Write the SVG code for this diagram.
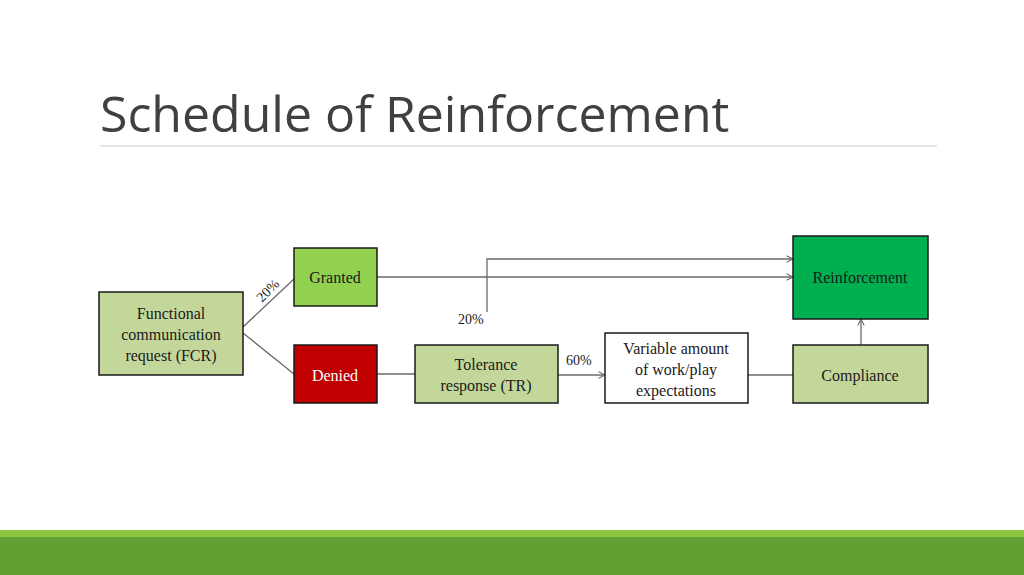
<svg xmlns="http://www.w3.org/2000/svg" width="1024" height="575" viewBox="0 0 1024 575">
<defs>
<style>
.b{stroke:#1a1a1a;stroke-width:1.5}
.t{font-family:"Liberation Serif","DejaVu Serif",serif;font-size:16px;fill:#1a1a1a;text-anchor:middle}
.c{fill:none;stroke:#6a6a6a;stroke-width:1.3}
.l{font-family:"Liberation Serif",serif;font-size:14px;fill:#1a1a1a}
</style>
<marker id="a" viewBox="0 0 10 10" refX="9" refY="5" markerWidth="8" markerHeight="8" orient="auto" markerUnits="userSpaceOnUse"><path d="M1 1L9 5L1 9" fill="none" stroke="#6a6a6a" stroke-width="1.3"/></marker>
</defs>
<rect width="1024" height="575" fill="#fff"/>
<text x="100" y="132" font-family="Open Sans,Noto Sans,sans-serif" font-size="50" fill="#404040">Schedule of Reinforcement</text>
<line x1="100" y1="146" x2="937" y2="146" stroke="#d0d0d0" stroke-width="1.2"/>
<rect x="0" y="530" width="1024" height="7" fill="#8dc63f"/>
<rect x="0" y="537" width="1024" height="38" fill="#62a033"/>
<g id="connectors">
<path class="c" d="M243 327L294 279"/>
<path class="c" d="M243 333L294 374"/>
<path class="c" d="M377 277H793" marker-end="url(#a)"/>
<path class="c" d="M487 312V259H793" marker-end="url(#a)"/>
<path class="c" d="M377 374H415"/>
<path class="c" d="M558 375H605" marker-end="url(#a)"/>
<path class="c" d="M748 375H793"/>
<path class="c" d="M861 345V319" marker-end="url(#a)"/>
<text class="l" x="458" y="324">20%</text>
<text class="l" x="566" y="365">60%</text>
<text class="l" transform="translate(262,303) rotate(-45)">20%</text>
</g>
<g id="fcr"><rect class="b" x="99" y="292" width="144" height="83" fill="#c4d79b"/><text class="t" x="171" y="319">Functional</text><text class="t" x="171" y="340">communication</text><text class="t" x="171" y="361">request (FCR)</text></g>
<g id="granted"><rect class="b" x="294" y="248" width="83" height="58" fill="#92d050"/><text class="t" x="335" y="283">Granted</text></g>
<g id="denied"><rect class="b" x="294" y="345" width="83" height="58" fill="#c00000"/><text class="t" x="335" y="381" fill="#fff" style="fill:#fff">Denied</text></g>
<g id="tr"><rect class="b" x="415" y="345" width="143" height="58" fill="#c4d79b"/><text class="t" x="486" y="370">Tolerance</text><text class="t" x="486" y="391">response (TR)</text></g>
<g id="variable"><rect class="b" x="605" y="333" width="143" height="70" fill="#fff"/><text class="t" x="676" y="354">Variable amount</text><text class="t" x="676" y="375">of work/play</text><text class="t" x="676" y="396">expectations</text></g>
<g id="compliance"><rect class="b" x="793" y="345" width="135" height="58" fill="#c4d79b"/><text class="t" x="860" y="381">Compliance</text></g>
<g id="reinforcement"><rect class="b" x="793" y="236" width="135" height="83" fill="#00b050"/><text class="t" x="860" y="283">Reinforcement</text></g>
</svg>
